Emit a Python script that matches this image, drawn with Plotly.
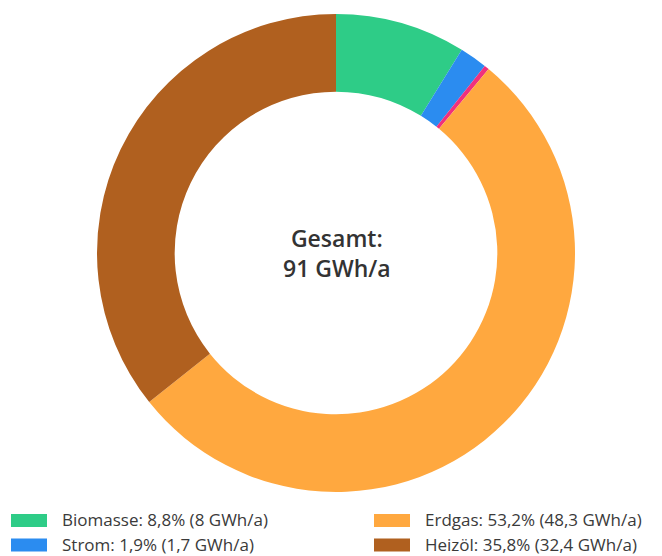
import plotly.graph_objects as go

# ─── DATA ─────────────────────────────────────────────────────
labels = ["Biomasse", "Strom", "Sonstige", "Erdgas", "Heizöl"]
values = [8.0, 1.7, 0.3, 48.3, 32.4]
shares = [8.8, 1.9, 0.3, 53.2, 35.8]
colors = ["#2ecc87", "#2b8cf0", "#f0307d", "#ffa83f", "#b0601f"]
total_label = "91 GWh/a"

# legend entries (two columns, row-wise)
legend_items = ["Biomasse", "Erdgas", "Strom", "Heizöl"]

TEXT = "#3a3a3a"
FONT = "Open Sans"
OFF = 8                      # page body margin
W, H = 662 - OFF, 556 - OFF


def px(x):
    return (x - OFF) / W


def py(y):
    return 1 - (y - OFF) / H


fig = go.Figure(go.Pie(
    labels=labels,
    values=values,
    marker=dict(colors=colors, line=dict(width=0)),
    hole=0.675,
    sort=False,
    direction="clockwise",
    rotation=0,
    textinfo="none",
    showlegend=False,
    domain=dict(x=[px(336 - 239), px(336 + 239)], y=[py(492), py(14)]),
    hovertemplate="<b>%{label}</b><br>%{value} GWh/a<extra></extra>",
))

annotations = [
    dict(
        x=px(337), y=py(253), xref="paper", yref="paper",
        text="Gesamt:<br>" + total_label,
        showarrow=False, align="center",
        font=dict(family=FONT, size=23, color="#333333", weight=600),
    )
]
shapes = []

# ─── LEGEND ───────────────────────────────────────────────────
col_x = [11, 374]
row_y = [520.5, 545]
for i, name in enumerate(legend_items):
    k = labels.index(name)
    cx = col_x[i % 2]
    cy = row_y[i // 2]
    shapes.append(dict(
        type="rect", xref="paper", yref="paper",
        x0=px(cx), x1=px(cx + 36),
        y0=py(cy + 6.5), y1=py(cy - 6.5),
        fillcolor=colors[k], line=dict(width=0),
    ))
    val = f"{values[k]:g}".replace(".", ",")
    pct = f"{shares[k]:.1f}".replace(".", ",")
    annotations.append(dict(
        x=px(cx + 49), y=py(cy - 1), xref="paper", yref="paper",
        xanchor="left", yanchor="middle",
        text=f"{name}: {pct}% ({val} GWh/a)",
        showarrow=False,
        font=dict(family=FONT, size=17, color=TEXT),
    ))

fig.update_layout(
    width=W, height=H,
    margin=dict(l=0, r=0, t=0, b=0),
    paper_bgcolor="white",
    plot_bgcolor="white",
    font=dict(family=FONT, color=TEXT),
    annotations=annotations,
    shapes=shapes,
)

fig.write_html("out.html")
